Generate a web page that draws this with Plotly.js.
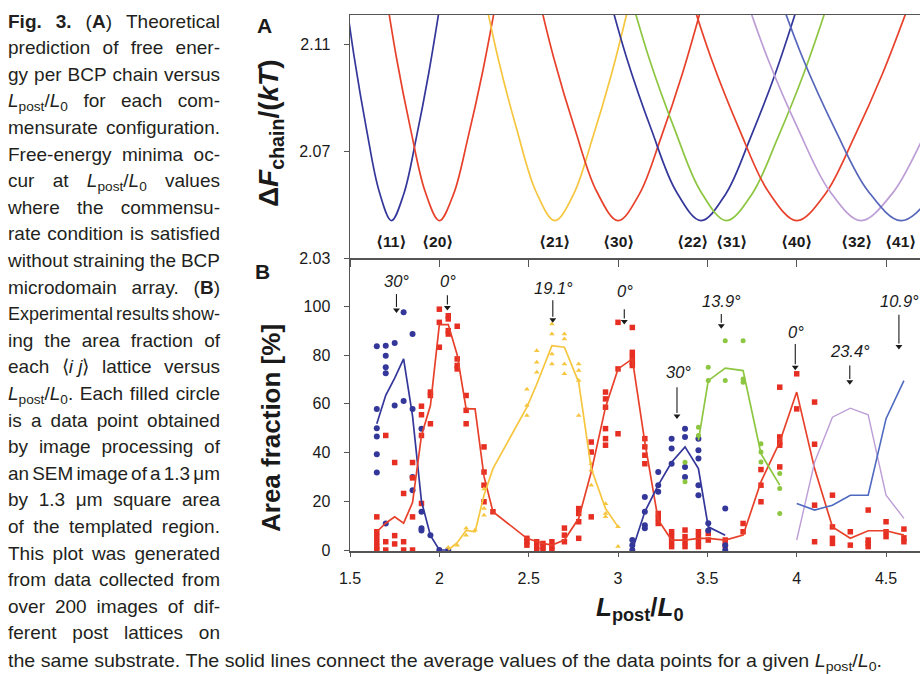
<!DOCTYPE html>
<html>
<head>
<meta charset="utf-8">
<script src="https://cdn.plot.ly/plotly-3.0.1.min.js"></script>
<style>
  html, body { margin:0; padding:0; background:#fff; }
  #wrap { position:relative; width:920px; height:674px; overflow:hidden; }
  #chart { position:absolute; left:0; top:0; width:920px; height:674px; }
  #caption { position:absolute; left:8px; top:8.7px; width:212px;
    font-family:"Liberation Sans",Arial,sans-serif; font-size:19px; color:#231f20; }
  .ln { position:relative; width:212px; height:26.6px; line-height:26.6px; white-space:nowrap; }
  .inner { display:flex; justify-content:space-between; width:212px; transform-origin:0 50%; }
  .inner span { flex:none; white-space:nowrap; }
  .last { position:absolute; left:8px; top:647.5px; height:26.6px; line-height:26.6px; white-space:nowrap;
    font-family:"Liberation Sans",Arial,sans-serif; font-size:19px; color:#231f20; transform-origin:0 50%; }
  sub { font-size:0.72em; line-height:0; vertical-align:-0.28em; }
</style>
</head>
<body>
<div id="wrap">
  <div id="chart"></div>
  <div id="caption"></div>
  <div class="last" id="lastline"></div>
</div>
<script>
// ---------------- caption text ----------------
const captionLines = [
  "<b>Fig.</b> <b>3.</b> (<b>A</b>) Theoretical",
  "prediction of free ener-",
  "gy per BCP chain versus",
  "<i>L</i><sub>post</sub>/<i>L</i><sub>0</sub> for each com-",
  "mensurate configuration.",
  "Free-energy minima oc-",
  "cur at <i>L</i><sub>post</sub>/<i>L</i><sub>0</sub> values",
  "where the commensu-",
  "rate condition is satisfied",
  "without straining the BCP",
  "microdomain array. (<b>B</b>)",
  "Experimental results show-",
  "ing the area fraction of",
  "each \u27e8<i>i&nbsp;j</i>\u27e9 lattice versus",
  "<i>L</i><sub>post</sub>/<i>L</i><sub>0</sub>. Each filled circle",
  "is a data point obtained",
  "by image processing of",
  "an SEM image of a 1.3 \u03bcm",
  "by 1.3 \u03bcm square area",
  "of the templated region.",
  "This plot was generated",
  "from data collected from",
  "over 200 images of dif-",
  "ferent post lattices on"
];
const captionLast = "the same substrate. The solid lines connect the average values of the data points for a given <i>L</i><sub>post</sub>/<i>L</i><sub>0</sub>.";

// ---------------- panel A: free energy curves ----------------
const curveY   = [2.138, 2.105, 2.078, 2.055, 2.044, 2.054, 2.075, 2.099, 2.127, 2.157];
const c11X = [1.455, 1.524, 1.593, 1.663, 1.732, 1.801, 1.871, 1.940, 2.009, 2.078];
const c20X = [1.680, 1.760, 1.840, 1.920, 2.000, 2.080, 2.160, 2.240, 2.320, 2.400];
const c21X = [2.223, 2.328, 2.434, 2.540, 2.646, 2.752, 2.858, 2.964, 3.069, 3.175];
const c30X = [2.520, 2.640, 2.760, 2.880, 3.000, 3.120, 3.240, 3.360, 3.480, 3.600];
const c22X = [2.910, 3.048, 3.187, 3.325, 3.464, 3.603, 3.741, 3.880, 4.018, 4.157];
const c31X = [3.029, 3.173, 3.318, 3.462, 3.606, 3.750, 3.894, 4.039, 4.183, 4.327];
const c40X = [3.360, 3.520, 3.680, 3.840, 4.000, 4.160, 4.320, 4.480, 4.640, 4.800];
const c32X = [3.662, 3.836, 4.010, 4.185, 4.359, 4.533, 4.708, 4.882, 5.056, 5.231];
const c41X = [3.850, 4.033, 4.216, 4.400, 4.583, 4.766, 4.950, 5.133, 5.316, 5.500];
const latticeLabels = ["\u27e811\u27e9","\u27e820\u27e9","\u27e821\u27e9","\u27e830\u27e9","\u27e822\u27e9","\u27e831\u27e9","\u27e840\u27e9","\u27e832\u27e9","\u27e841\u27e9"];
const latticeLabelX = [1.735, 1.987, 2.647, 3.0, 3.414, 3.637, 4.0, 4.337, 4.58];
const latticeLabelY = 2.0363;

// ---------------- panel B: area fraction data ----------------
// <11> blue circles
const b11X = [1.65,1.65,1.65,1.65,1.65,1.65, 1.70,1.70,1.70,1.70,1.70, 1.75,1.75, 1.80,1.80, 1.85,1.85,1.85,1.85, 1.90,1.90,1.90,1.90, 1.95, 2.00, 2.05];
const b11Y = [83.6,57.9,50,46.6,39.3,31.8, 83.8,79.7,75,72.5,10.9, 84.9,59.3, 97.5,61.1, 88.6,57.9,30,24.5, 49.8,15.7,8.9,8.0, 6.1, 0, 0];
const b11MeanX = [1.65, 1.70, 1.75, 1.80, 1.85, 1.90, 1.95, 2.00, 2.05];
const b11MeanY = [51.8, 63.5, 70.5, 78.4, 55, 20, 6, 0, 0];

// <20>, <30>, <40> red squares
const redX = [1.65,1.65,1.65,1.65,1.65,1.65, 1.70,1.70,1.70, 1.75,1.75,1.75, 1.80,1.80,1.80, 1.85,1.85,1.85,1.85,
  1.90,1.90,1.90,1.90, 1.95,1.95,1.95, 2.00,2.00,2.00, 2.05,2.05,2.05,2.05, 2.10,2.10,2.10,2.10, 2.15,2.15,2.15,
  2.25,2.25,2.25,2.25, 2.30,
  2.49,2.49,2.49, 2.545,2.545,2.545, 2.58,2.58,2.58, 2.63,2.63,2.63, 2.70,2.70,2.70, 2.78,2.78,2.78,2.78,
  2.85,2.85,2.85, 2.93,2.93,2.93,2.93,2.93,2.93, 3.00,3.00,3.00, 3.08,3.08,3.08,3.08,3.08, 3.15,3.15,3.15,3.15,
  3.225,3.225,3.225, 3.30,3.30,3.30,3.30, 3.375,3.375,3.375,3.375, 3.45,3.45,3.45,3.45, 3.505,3.505, 3.60,3.60,
  3.70,3.70, 3.80,3.80,3.80, 3.905,3.905,3.905,3.905,3.905, 4.00,4.00, 4.10,4.10,4.10,4.10, 4.20,4.20,4.20,4.20,
  4.30,4.30, 4.40,4.40,4.40,4.40, 4.50,4.50,4.50, 4.60,4.60,4.60];
const redY = [13.6,7.5,5.5,3.4,1.4,0, 47,3.4,0, 35.9,5.9,2.5, 23.2,3.4,0, 35.9,29.6,13.6,0,
  59,55.5,47,19.1, 64.8,63.4,51.8, 98.8,93.4,83.2, 96.1,94.8,90,88.6, 91.8,78.4,75.7,74.3, 63.4,57.3,51.8,
  42.3,32,26.6,19.8, 15.7,
  4.8,3.4,2, 3.4,1.4,0, 2.7,1.4,0, 3.4,1.4,0, 9,6.1,3.4, 17,15,11.6,4.8,
  44.3,40.2,13.6, 64.8,62,58.6,49.8,45.7,43, 93.4,74.3,47.7, 91.3,81.1,79.1,77,75.7, 45.7,42.3,38.9,35.4,
  15,13,10.9, 7.5,5.5,3.4,1.4, 8.2,5.5,3.4,1.4, 7.5,5.5,3.4,1.4, 6.8,4.1, 4.1,2,
  10.9,7.5, 33,26.6,19.8, 66.8,46.4,44.3,43,34.1, 72.3,57.9, 60.7,43.4,18.4,3.4, 22.5,9.5,4.8,2.7,
  7.5,2, 16.4,4.1,2.7,1.4, 11.6,7.5,5.5, 8.6,5,3.4];
const redMeanX = [1.65,1.70,1.75,1.80,1.85,1.90,1.95,2.00,2.05,2.10,2.15,2.20,2.25,2.30,2.49,2.545,2.58,2.63,2.70,2.78,
  2.85,2.93,3.00,3.08,3.15,3.225,3.30,3.375,3.45,3.505,3.60,3.70,3.80,3.905,4.00,4.10,4.20,4.30,4.40,4.50,4.60];
const redMeanY = [7.5,11,13.6,11,19.5,47,59.3,92.5,92.5,80,57.9,57.9,30.2,15.7,4.8,3.4,2.7,2.0,4.1,13,
  32,58.6,74.3,78.4,44.3,12.3,4.1,4.1,4.8,4.8,4.1,6.1,28,44.3,64.8,33.4,9.5,4.8,7.9,7.9,6.1];

// <21> yellow triangles
const y21X = [2.05, 2.10, 2.15,2.15, 2.20, 2.25,2.25,2.25, 2.49,2.49,2.49, 2.545,2.545,2.545, 2.63,2.63,2.63,2.63,
  2.70,2.70,2.70,2.70, 2.78,2.78,2.78,2.78, 2.85,2.85,2.85, 2.93,2.93,2.93, 3.00,3.00];
const y21Y = [1, 2, 8.9,6.1, 8.2, 25,17,14.3, 66,59.3,55.2, 81.8,77,72.9, 92.7,88.6,80.4,76.3,
  88.6,86.6,76.3,72.3, 76.3,73.6,69.5,55.2, 35.4,32.7,26.6, 19,15,13.6, 9.5,1.4];
const y21MeanX = [2.05, 2.10, 2.15, 2.20, 2.25, 2.30, 2.49, 2.545, 2.63, 2.70, 2.78, 2.85, 2.93, 3.00];
const y21MeanY = [0, 3, 8, 7.5, 22.5, 33.4, 58.6, 68, 83.8, 83.2, 68.8, 33.4, 17, 9.5];

// <22> navy circles
const b22X = [3.08,3.08,3.08, 3.15,3.15,3.15,3.15, 3.225,3.225,3.225, 3.30,3.30,3.30, 3.375,3.375,3.375,3.375,
  3.45,3.45,3.45,3.45,3.45, 3.505,3.505, 3.60,3.60,3.60];
const b22Y = [4.1,2,0, 21.8,15.7,10.2,8.9, 32,26.6,23.9, 45.7,41.6,35.4, 49.8,46.4,34.1,30,
  45.7,40.9,37.5,26.6,22.5, 11,8, 17,2,0];
const b22MeanX = [3.08, 3.15, 3.225, 3.30, 3.375, 3.45, 3.505, 3.60];
const b22MeanY = [0, 15.7, 26.6, 36, 42.3, 33.4, 9.5, 6.1];

// <31> green circles
const g31X = [3.375,3.375, 3.45,3.45, 3.505,3.505, 3.60,3.60, 3.70,3.70,3.70, 3.80,3.80,3.80, 3.905,3.905,3.905];
const g31Y = [36,28, 50.4,47, 75,69.5, 85.9,69.5, 85.9,70.2,68.8, 43.6,40.2,36.1, 31.4,25.2,15];
const g31MeanX = [3.45, 3.505, 3.60, 3.70, 3.80, 3.905];
const g31MeanY = [45, 69.5, 74.6, 73.6, 39.5, 26.6];

// <32> lavender and <41> light blue (faint open circles + lines)
const p32X = [4.10, 4.20, 4.30, 4.40, 4.40, 4.50];
const p32Y = [40, 60.7, 62, 73, 80, 25];
const p32MeanX = [4.00, 4.10, 4.20, 4.30, 4.40, 4.50, 4.60];
const p32MeanY = [4.1, 36, 54.5, 58.2, 55.5, 22.5, 13];
const l41X = [4.00,4.00, 4.10,4.10, 4.20,4.20, 4.30, 4.40,4.40, 4.50,4.50, 4.60,4.60,4.60];
const l41Y = [24,16, 22,11, 19.8,12.3, 28, 12.3,36, 62,45.7, 97,78.4,72.9];
const l41MeanX = [4.00, 4.10, 4.20, 4.30, 4.40, 4.50, 4.60];
const l41MeanY = [19.1, 16.4, 18.4, 22.5, 22.5, 53.9, 69.5];

// angle annotations: text, text position, arrow x, arrow tail y, arrow tip y
const angleText  = ["30\u00b0", "0\u00b0", "19.1\u00b0", "0\u00b0", "13.9\u00b0", "30\u00b0", "0\u00b0", "23.4\u00b0", "10.9\u00b0"];
const angleTextX = [1.761, 2.05, 2.638, 3.04, 3.58, 3.337, 3.996, 4.30, 4.575];
const angleTextY = [110.4, 110.4, 107.7, 106.3, 102.2, 72.9, 89.3, 81.8, 102.2];
const arrowX     = [1.76, 2.045, 2.635, 3.035, 3.578, 3.33, 3.992, 4.297, 4.572];
const arrowTail  = [105, 104.5, 102.5, 98.8, 96.8, 66.8, 84.5, 75.7, 96.5];
const arrowTip   = [98.5, 99.5, 94.5, 93.8, 92, 55, 75, 69, 83.5];

const xTicks = [1.5, 2, 2.5, 3, 3.5, 4, 4.5];
const xTickText = ["1.5", "2", "2.5", "3", "3.5", "4", "4.5"];
const yTicksA = [2.03, 2.07, 2.11];
const yTickTextA = ["2.03", "2.07", "2.11"];
const yTicksB = [0, 20, 40, 60, 80, 100];

// ---------------- colours ----------------
const NAVY = "#34379a", RED = "#e8412b", YEL = "#f6c640", GRN = "#8dc641", LAV = "#bd9dd6", LBL = "#4e69bf", BLU41 = "#5666bb";

// ---------------- build caption ----------------
const COL_W = 212;
const cap = document.getElementById("caption");
captionLines.forEach(function (line) {
  const d = document.createElement("div");
  d.className = "ln";
  const inner = document.createElement("div");
  inner.className = "inner";
  const words = line.split(" ");
  words.forEach(function (w) {
    const s = document.createElement("span");
    s.innerHTML = w;
    inner.appendChild(s);
  });
  d.appendChild(inner);
  cap.appendChild(d);
  let sum = 0;
  inner.querySelectorAll("span").forEach(function (s) { sum += s.getBoundingClientRect().width; });
  const needed = sum + (words.length - 1) * 3.2;
  if (needed > COL_W) {
    inner.style.width = needed + "px";
    inner.style.transform = "scaleX(" + (COL_W / needed) + ")";
  }
});
const last = document.getElementById("lastline");
last.innerHTML = captionLast;
const lastW = last.getBoundingClientRect().width;
const LAST_TARGET = 874;
last.style.transform = "scaleX(" + (LAST_TARGET / lastW) + ")";

// ---------------- traces ----------------
const traces = [];
function curve(xs, color) {
  traces.push({x: xs, y: curveY, xaxis: "x2", yaxis: "y2", mode: "lines",
    line: {color: color, width: 1.7, shape: "spline", smoothing: 1.0}, hoverinfo: "skip"});
}
curve(c11X, NAVY); curve(c20X, RED); curve(c21X, YEL); curve(c30X, RED); curve(c22X, NAVY);
curve(c31X, GRN); curve(c40X, RED); curve(c32X, LAV); curve(c41X, BLU41);

function pts(xs, ys, color, symbol, size, extra) {
  const t = {x: xs, y: ys, xaxis: "x", yaxis: "y", mode: "markers", cliponaxis: false,
    marker: {color: color, symbol: symbol, size: size, line: {width: 0}}, hoverinfo: "skip"};
  if (extra) Object.assign(t.marker, extra);
  traces.push(t);
}
function mean(xs, ys, color, w) {
  traces.push({x: xs, y: ys, xaxis: "x", yaxis: "y", mode: "lines", cliponaxis: false,
    line: {color: color, width: w || 1.7}, hoverinfo: "skip"});
}
pts(l41X, l41Y, "rgba(0,0,0,0)", "circle-open", 6, {line: {color: "rgba(120,150,215,0.35)", width: 1}});
pts(p32X, p32Y, "rgba(0,0,0,0)", "circle-open", 6, {line: {color: "rgba(190,160,220,0.3)", width: 1}});
pts(b11X, b11Y, NAVY, "circle", 6);
pts(redX, redY, "#e62e22", "square", 5.5);
pts(y21X, y21Y, YEL, "triangle-up", 5);
pts(b22X, b22Y, NAVY, "circle", 6);
pts(g31X, g31Y, GRN, "circle", 5);
mean(b11MeanX, b11MeanY, NAVY);
mean(redMeanX, redMeanY, RED);
mean(y21MeanX, y21MeanY, YEL);
mean(b22MeanX, b22MeanY, NAVY);
mean(g31MeanX, g31MeanY, GRN);
mean(p32MeanX, p32MeanY, LAV, 1.4);
mean(l41MeanX, l41MeanY, LBL, 1.6);
// arrow heads (drawn from the arrow arrays)
traces.push({x: arrowX, y: arrowTip, xaxis: "x", yaxis: "y", mode: "markers", cliponaxis: false,
  marker: {symbol: "triangle-down", size: 6, color: "#1a1a1a", line: {width: 0}}, hoverinfo: "skip"});

// arrow shafts as shapes
const shapes = arrowX.map(function (x, i) {
  return {type: "line", xref: "x", yref: "y", x0: x, x1: x, y0: arrowTail[i], y1: arrowTip[i] + 1.2,
    line: {color: "#1a1a1a", width: 1.1}};
});

// ---------------- annotations ----------------
const ann = [];
latticeLabels.forEach(function (t, i) {
  ann.push({x: latticeLabelX[i], y: latticeLabelY, xref: "x2", yref: "y2", text: t, showarrow: false,
    xanchor: "center", yanchor: "middle",
    font: {family: "Liberation Sans, DejaVu Sans, sans-serif", size: 15.5, color: "#1a1a1a", weight: "bold"}});
});
angleText.forEach(function (t, i) {
  ann.push({x: angleTextX[i], y: angleTextY[i], xref: "x", yref: "y", text: "<i>" + t + "</i>", showarrow: false,
    xanchor: "center", yanchor: "middle",
    font: {family: "Liberation Sans, sans-serif", size: 16.5, color: "#1a1a1a"}});
});
const titleFont = {family: "Liberation Sans, DejaVu Sans, sans-serif", size: 26, color: "#1a1a1a", weight: "bold"};
function paperText(px, py, text, font, angle) {
  const a = {x: px / 920, y: 1 - py / 674, xref: "paper", yref: "paper", xanchor: "center", yanchor: "middle",
    showarrow: false, text: text, font: font};
  if (angle) a.textangle = angle;
  ann.push(a);
}
paperText(270, 133, "\u0394<i>F</i><sub>chain</sub>/(<i>kT</i>)",
  {family: "Liberation Sans, DejaVu Sans, sans-serif", size: 28, color: "#1a1a1a", weight: "bold"}, -90);
paperText(271, 428, "Area fraction [%]", titleFont, -90);
paperText(640, 608, "<i>L</i><sub>post</sub>/<i>L</i><sub>0</sub>", titleFont);
paperText(264, 25, "A", {family: "Liberation Sans, sans-serif", size: 21, color: "#1a1a1a", weight: "bold"});
paperText(262, 272, "B", {family: "Liberation Sans, sans-serif", size: 21, color: "#1a1a1a", weight: "bold"});

const tickFont = {family: "Liberation Sans, sans-serif", size: 16, color: "#1a1a1a"};
const xDom = [350/920, 1];
const layout = {
  width: 920, height: 674, margin: {l: 0, r: 0, t: 0, b: 0},
  paper_bgcolor: "#fff", plot_bgcolor: "rgba(0,0,0,0)", showlegend: false,
  xaxis: {domain: xDom, anchor: "y", range: [1.5, 4.69], tickvals: xTicks, ticktext: xTickText,
    ticks: "outside", ticklen: 4, tickcolor: "#555", showline: true, linecolor: "#555", linewidth: 1.5,
    showgrid: false, zeroline: false, tickfont: tickFont, ticklabelstandoff: 8, fixedrange: true},
  xaxis2: {domain: xDom, anchor: "y2", matches: "x", range: [1.5, 4.69], tickvals: xTicks, showticklabels: false,
    ticks: "outside", ticklen: 7, tickcolor: "#555", showline: true, mirror: true, linecolor: "#555", linewidth: 1.5,
    showgrid: false, zeroline: false, fixedrange: true},
  yaxis: {domain: [123/674, 416/674], anchor: "x", range: [-0.4, 119.8], tickvals: yTicksB,
    ticks: "outside", ticklen: 5, tickcolor: "#555", showline: true, linecolor: "#555", linewidth: 1.5,
    showgrid: false, zeroline: false, tickfont: tickFont, ticklabelstandoff: 10, fixedrange: true},
  yaxis2: {domain: [416/674, 659/674], anchor: "x2", range: [2.03, 2.121], tickvals: yTicksA, ticktext: yTickTextA,
    ticks: "outside", ticklen: 5, tickcolor: "#555", showline: true, linecolor: "#555", linewidth: 1.5,
    showgrid: false, zeroline: false, tickfont: tickFont, ticklabelstandoff: 10, fixedrange: true},
  shapes: shapes,
  annotations: ann
};
Plotly.newPlot("chart", traces, layout, {displayModeBar: false, staticPlot: true});
</script>
</body>
</html>
